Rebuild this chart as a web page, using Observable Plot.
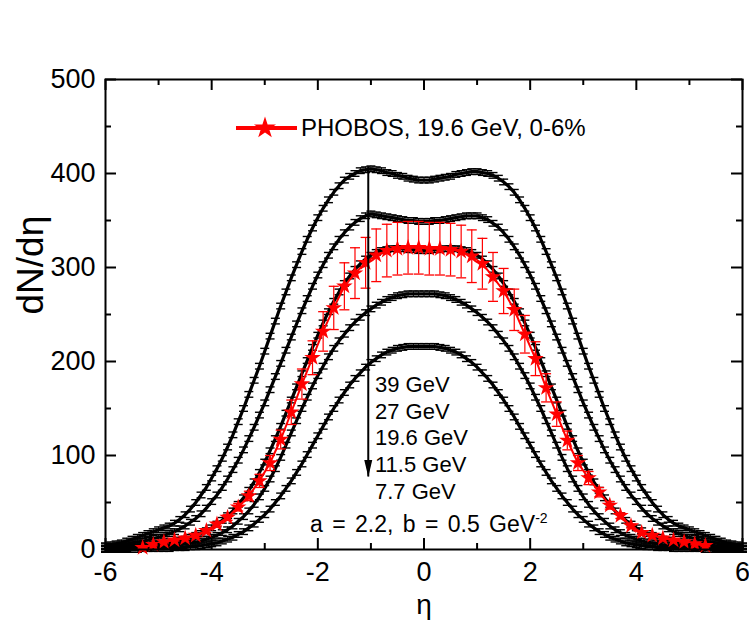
<!DOCTYPE html>
<html><head><meta charset="utf-8">
<script src="https://cdn.jsdelivr.net/npm/d3@7"></script>
<script src="https://cdn.jsdelivr.net/npm/@observablehq/plot@0.6"></script>
<style>
body{margin:0;background:#fff;}
#wrap{position:relative;width:749px;height:626px;font-family:"Liberation Sans",Arial,sans-serif;color:#000;}
#wrap svg.plot{position:absolute;left:0;top:0;}
#legend{position:absolute;left:236px;top:116px;height:24px;font-size:24px;line-height:24px;display:flex;align-items:center;white-space:nowrap;}
#legend span{margin-left:3px;}
.ann{position:absolute;font-size:22px;line-height:22px;white-space:nowrap;}
.ann.param{font-size:23px;line-height:23px;word-spacing:3px;}
.ann sup{font-size:14px;vertical-align:9px;line-height:0;}
</style></head><body><div id="wrap"></div>
<script>
// ---------- data ----------
const eta = [
-6,-5.9,-5.8,-5.7,-5.6,-5.5,-5.4,-5.3,-5.2,-5.1,
-5,-4.9,-4.8,-4.7,-4.6,-4.5,-4.4,-4.3,-4.2,-4.1,
-4,-3.9,-3.8,-3.7,-3.6,-3.5,-3.4,-3.3,-3.2,-3.1,
-3,-2.9,-2.8,-2.7,-2.6,-2.5,-2.4,-2.3,-2.2,-2.1,
-2,-1.9,-1.8,-1.7,-1.6,-1.5,-1.4,-1.3,-1.2,-1.1,
-1,-0.9,-0.8,-0.7,-0.6,-0.5,-0.4,-0.3,-0.2,-0.1,
0,0.1,0.2,0.3,0.4,0.5,0.6,0.7,0.8,0.9,
1,1.1,1.2,1.3,1.4,1.5,1.6,1.7,1.8,1.9,
2,2.1,2.2,2.3,2.4,2.5,2.6,2.7,2.8,2.9,
3,3.1,3.2,3.3,3.4,3.5,3.6,3.7,3.8,3.9,
4,4.1,4.2,4.3,4.4,4.5,4.6,4.7,4.8,4.9,
5,5.1,5.2,5.3,5.4,5.5,5.6,5.7,5.8,5.9,
6];

const c39 = [
4,5,6,7,9,11,13,15,17,19,
21,23,25,28,32,37,43,50,58,66,
76,86,97,109,122,136,150,165,180,195,
211,227,243,259,274,289,303,317,330,342,
353,363,372,380,387,393,397,400,403,404,
405,404,403,401,400,398,397,395,394,393,
393,393,394,395,396,397,399,400,401,402,
402,401,400,398,395,391,386,380,372,363,
353,342,330,317,303,289,274,259,243,227,
211,195,180,165,150,136,122,109,97,86,
76,66,58,50,43,37,32,28,25,23,
21,19,17,15,13,11,9,7,6,5,
4];

const c27 = [
3,3,4,5,6,7,8,9,10,12,
13,15,17,19,22,25,29,33,38,44,
51,58,66,75,85,95,106,118,130,143,
156,170,184,198,212,226,240,254,267,280,
292,303,313,322,330,337,343,348,352,355,
357,356,355,354,353,352,351,350,350,349,
349,349,350,350,351,352,353,354,355,355,
355,353,351,347,343,337,330,322,313,303,
292,280,267,254,240,226,212,198,184,170,
156,143,130,118,106,95,85,75,66,58,
51,44,38,33,29,25,22,19,17,15,
13,12,10,9,8,7,6,5,4,3,
3];

const c19 = [
1,1,2,2,2,3,3,4,4,5,
5,6,7,8,10,11,13,15,17,20,
23,27,31,36,41,48,55,63,72,82,
93,105,118,131,145,159,173,187,201,215,
228,241,253,264,274,283,291,298,304,309,
313,316,318,319,320,320,320,319,319,318,
318,318,319,319,320,320,320,319,318,316,
313,309,304,298,291,283,274,264,253,241,
228,215,201,187,173,159,145,131,118,105,
93,82,72,63,55,48,41,36,31,27,
23,20,17,15,13,11,10,8,7,6,
5,5,4,4,3,3,2,2,2,1,
1];

const c11 = [
1,1,1,1,1,2,2,2,2,3,
3,3,4,4,5,6,7,8,9,11,
13,15,18,21,25,30,35,41,48,56,
65,75,86,98,111,124,137,150,162,174,
185,195,205,214,222,229,236,242,247,252,
256,260,263,266,268,270,271,272,272,272,
272,272,272,271,270,268,266,263,260,256,
252,247,242,236,229,222,214,205,195,185,
174,162,150,137,124,111,98,86,75,65,
56,48,41,35,30,25,21,18,15,13,
11,9,8,7,6,5,4,4,3,3,
3,2,2,2,2,1,1,1,1,1,
1];

const c7 = [
0,0,0,0,0,0,0,1,1,1,
1,1,1,2,2,2,3,3,4,5,
6,7,9,11,13,16,19,23,27,32,
37,43,50,57,65,73,82,91,101,111,
121,131,141,150,159,167,175,182,188,194,
199,203,207,210,212,214,215,216,216,216,
216,216,216,215,214,212,210,207,203,199,
194,188,182,175,167,159,150,141,131,121,
111,101,91,82,73,65,57,50,43,37,
32,27,23,19,16,13,11,9,7,6,
5,4,3,3,2,2,2,1,1,1,
1,1,1,0,0,0,0,0,0,0,
0];

const energies = ["39 GeV", "27 GeV", "19.6 GeV", "11.5 GeV", "7.7 GeV"];
const curves = [c39, c27, c19, c11, c7];
const blackErr = 3;

const etaPH = [
-5.3,-5.1,-4.9,-4.7,-4.5,-4.3,-4.1,-3.9,-3.7,-3.5,-3.3,-3.1,-2.9,-2.7,-2.5,-2.3,-2.1,-1.9,-1.7,-1.5,-1.3,-1.1,-0.9,-0.7,-0.5,-0.3,-0.1,
0.1,0.3,0.5,0.7,0.9,1.1,1.3,1.5,1.7,1.9,2.1,2.3,2.5,2.7,2.9,3.1,3.3,3.5,3.7,3.9,4.1,4.3,4.5,4.7,4.9,5.1,5.3];
const dndetaPH = [
2,5,8,10,12,15,20,27,34,45,57,73,92,117,146,176,204,232,257,280,294,305,313,318,320,321,321,
320,320,319,317,312,304,290,275,255,229,203,172,144,116,92,76,61,47,36,25,18,15,12,10,8,6,4];
const errPH = [
1,1,1,1,1,2,2,2,3,4,5,7,8,10,13,16,18,21,23,25,27,27,28,28,28,28,28,
28,28,28,28,28,27,26,24,22,20,18,15,13,10,8,7,5,4,3,2,2,1,1,1,1,1,1];

const legendLabel = "PHOBOS, 19.6 GeV, 0-6%";
const annotationLines = ["39 GeV", "27 GeV", "19.6 GeV", "11.5 GeV", "7.7 GeV"];
const paramText = "a = 2.2, b = 0.5 GeV";
const arrow = [{x: -1.05, top: 407, tip: 77}];

const xTicks = [-6, -4, -2, 0, 2, 4, 6];
const xMinor = [-5, -3, -1, 1, 3, 5];
const yTicks = [0, 100, 200, 300, 400, 500];
const yMinor = [50, 150, 250, 350, 450];

// ---------- build ----------
const W = 749, H = 626, mL = 105, mR = 7, mT = 79, mB = 77;
const pw = W - mL - mR, ph = H - mT - mB;
const black = curves.flatMap((c, i) => c.map((v, j) => ({e: energies[i], x: eta[j], y: v})));
const phob = etaPH.map((x, i) => ({x, y: dndetaPH[i], err: errPH[i]}));
const capSym = w => ({draw(ctx) { ctx.moveTo(-w / 2, 0); ctx.lineTo(w / 2, 0); }});
const headShape = {draw(ctx, l, r) { ctx.moveTo(0, -l); ctx.lineTo(-r, 0); ctx.lineTo(r, 0); ctx.closePath(); }};
const fmt = d => d < 0 ? "-" + (-d) : String(d);
const MAJ = 11, MIN = 6;

const chart = Plot.plot({
  width: W, height: H,
  marginLeft: mL, marginRight: mR, marginTop: mT, marginBottom: mB,
  style: {fontFamily: "'Liberation Sans', Arial, sans-serif", background: "white", color: "black"},
  x: {domain: [-6, 6]},
  y: {domain: [0, 500]},
  marks: [
    // black model curves
    Plot.line(black, {x: "x", y: "y", z: "e", stroke: "black", strokeWidth: 3.2}),
    Plot.ruleX(black, {x: "x", y1: d => d.y - blackErr, y2: d => d.y + blackErr, stroke: "black", strokeWidth: 1}),
    Plot.dot(black, {x: "x", y: d => d.y + blackErr, symbol: capSym(9), r: 3, stroke: "black", strokeWidth: 1.4, fill: "none"}),
    Plot.dot(black, {x: "x", y: d => d.y - blackErr, symbol: capSym(9), r: 3, stroke: "black", strokeWidth: 1.4, fill: "none"}),
    // PHOBOS data
    Plot.line(phob, {x: "x", y: "y", stroke: "#ff0000", strokeWidth: 2}),
    Plot.ruleX(phob, {x: "x", y1: d => d.y - d.err, y2: d => d.y + d.err, stroke: "#ff0000", strokeWidth: 1.2}),
    Plot.dot(phob, {x: "x", y: d => d.y + d.err, symbol: capSym(10), r: 3, stroke: "#ff0000", strokeWidth: 1.3, fill: "none"}),
    Plot.dot(phob, {x: "x", y: d => d.y - d.err, symbol: capSym(10), r: 3, stroke: "#ff0000", strokeWidth: 1.3, fill: "none"}),
    Plot.dot(phob, {x: "x", y: "y", symbol: "star", r: 5.2, fill: "#ff0000", stroke: "none"}),
    // arrow
    Plot.ruleX(arrow, {x: "x", y1: "top", y2: "tip", stroke: "black", strokeWidth: 2}),
    Plot.vector(arrow, {x: "x", y: "tip", length: 17, r: 4, rotate: 180, anchor: "end", shape: headShape, fill: "black", stroke: "none"}),
    // frame and inward ticks
    Plot.frame({stroke: "black", strokeWidth: 2}),
    Plot.tickX(xTicks, {x: d => d, insetTop: ph - MAJ, stroke: "black", strokeWidth: 2}),
    Plot.tickX(xTicks, {x: d => d, insetBottom: ph - MAJ, stroke: "black", strokeWidth: 2}),
    Plot.tickX(xMinor, {x: d => d, insetTop: ph - MIN, stroke: "black", strokeWidth: 2}),
    Plot.tickX(xMinor, {x: d => d, insetBottom: ph - MIN, stroke: "black", strokeWidth: 2}),
    Plot.tickY(yTicks, {y: d => d, insetRight: pw - MAJ, stroke: "black", strokeWidth: 2}),
    Plot.tickY(yTicks, {y: d => d, insetLeft: pw - MAJ, stroke: "black", strokeWidth: 2}),
    Plot.tickY(yMinor, {y: d => d, insetRight: pw - MIN, stroke: "black", strokeWidth: 2}),
    Plot.tickY(yMinor, {y: d => d, insetLeft: pw - MIN, stroke: "black", strokeWidth: 2}),
    // tick labels
    Plot.axisX({ticks: xTicks, tickSize: 0, tickPadding: 12, fontSize: 27, tickFormat: fmt, label: null}),
    Plot.axisY({ticks: yTicks, tickSize: 0, tickPadding: 10, fontSize: 27, tickFormat: fmt, label: null}),
    // axis titles
    Plot.text(["dN/dη"], {frameAnchor: "left", dx: -74, rotate: -90, fontSize: 37, fill: "black"}),
    Plot.text(["η"], {frameAnchor: "bottom", dy: 64, fontSize: 28, fill: "black"})
  ]
});
chart.classList.add("plot");
const wrap = document.getElementById("wrap");
wrap.appendChild(chart);

// legend (HTML overlay)
const starPath = d3.symbol(d3.symbolStar, 150)();
const leg = document.createElement("div");
leg.id = "legend";
leg.innerHTML = `<svg width="62" height="24"><line x1="0" y1="12" x2="61" y2="12" stroke="#ff0000" stroke-width="4"/><path transform="translate(29,12)" d="${starPath}" fill="#ff0000"/></svg><span>${legendLabel}</span>`;
wrap.appendChild(leg);

// annotations (HTML overlay)
const annTops = [374, 401, 427, 454, 481];
annotationLines.forEach((t, i) => {
  const d = document.createElement("div");
  d.className = "ann";
  d.style.left = "375px";
  d.style.top = annTops[i] + "px";
  d.textContent = t;
  wrap.appendChild(d);
});
const p = document.createElement("div");
p.className = "ann param";
p.style.left = "310px";
p.style.top = "513px";
p.innerHTML = paramText + "<sup>-2</sup>";
wrap.appendChild(p);
</script>
</body></html>
